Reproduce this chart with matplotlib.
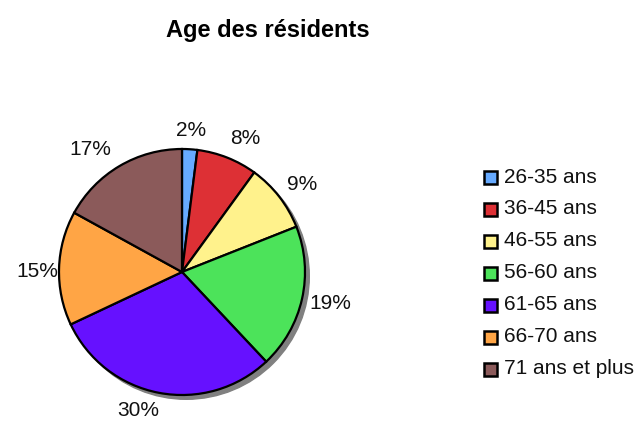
import matplotlib.pyplot as plt
from matplotlib.patches import Circle, Rectangle

plt.rcParams['font.family'] = ['Liberation Sans', 'DejaVu Sans']

title = "Age des résidents"
categories = ['26-35 ans', '36-45 ans', '46-55 ans', '56-60 ans',
              '61-65 ans', '66-70 ans', '71 ans et plus']
values = [2, 8, 9, 19, 30, 15, 17]
colors = ['#66aaff', '#dd3035', '#fff28c', '#4ce35a',
          '#6611ff', '#ffa545', '#8b5a5a']

W, H = 639, 421
fig = plt.figure(figsize=(W / 100, H / 100), dpi=100)

# pie centre and radius in pixels
cx, cy, r = 182, 272, 123
k = 1.3
ax = fig.add_axes([(cx - k * r) / W, (H - cy - k * r) / H, 2 * k * r / W, 2 * k * r / H])

# drop shadow
ax.add_patch(Circle((0.035, -0.035), 1.0, color='#808080', zorder=0))

wedges, texts, autotexts = ax.pie(
    values, colors=colors, startangle=90, counterclock=False,
    autopct='%1.0f%%', pctdistance=1.19,
    wedgeprops=dict(edgecolor='black', linewidth=1.6),
    textprops=dict(fontsize=15, color='#111111'))
for w in wedges:
    w.set_zorder(2)

# small nudges (pixels, right / down) so labels sit like the original
nudges = [(0, 5), (9, 3), (4, 2), (5, 0), (-16, -5), (2, 4), (-17, 3)]
for t, (dx, dy) in zip(autotexts, nudges):
    x, y = t.get_position()
    t.set_position((x + dx / r, y - dy / r))

ax.set_xlim(-k, k)
ax.set_ylim(-k, k)
ax.set_aspect('equal')
ax.axis('off')

fig.text(268 / W, 1 - 30 / H, title, ha='center', va='center',
         fontsize=17, fontweight='bold')

# legend
for i, (lab, col) in enumerate(zip(categories, colors)):
    y = 177 + 32 * i
    fig.patches.append(Rectangle(((484) / W, 1 - (y + 7) / H), 13 / W, 13 / H,
                                 transform=fig.transFigure, facecolor=col,
                                 edgecolor='black', linewidth=1.8))
    fig.text(504 / W, 1 - y / H, lab, ha='left', va='center', fontsize=15,
             color='#111111')

fig.savefig('out.png', dpi=100)
